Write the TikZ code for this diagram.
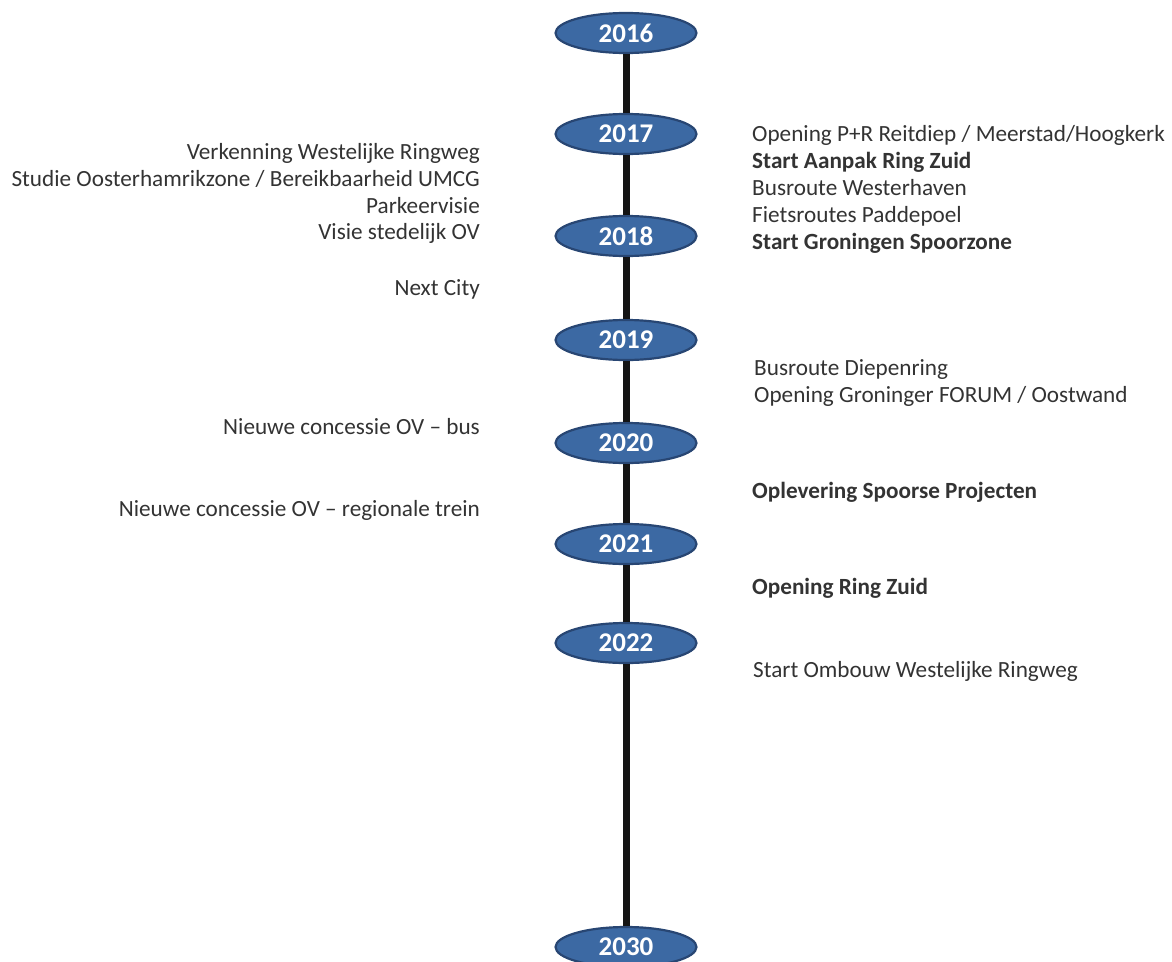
\documentclass[tikz,border=0pt]{standalone}
\usepackage{fontspec}
\setmainfont{Carlito}
\usetikzlibrary{shapes.geometric}
\definecolor{yearfill}{HTML}{3C69A3}
\definecolor{yearedge}{HTML}{284673}
\definecolor{txt}{HTML}{333333}
\definecolor{linecol}{HTML}{141414}
\tikzset{
  year/.style={ellipse, fill=yearfill, draw=yearedge, line width=2.2pt,
    minimum width=141pt, minimum height=40pt, inner sep=0pt,
    text=white, font=\bfseries\fontsize{27}{27}\selectfont},
  spine/.style={draw=linecol, line width=7pt},
  lefttxt/.style={anchor=base east, inner sep=0pt, text=txt, font=\fontsize{23.2}{28}\selectfont},
  righttxt/.style={anchor=base west, inner sep=0pt, text=txt, font=\fontsize{23.2}{28}\selectfont},
  bold/.style={font=\bfseries\fontsize{23.2}{28}\selectfont}
}
\begin{document}
\begin{tikzpicture}[x=1pt,y=-1pt]
\useasboundingbox (0,0) rectangle (1172,961);
% year nodes
\node[year] (y2016) at (626,33) {2016};
\node[year] (y2017) at (626,134) {2017};
\node[year] (y2018) at (626,236) {2018};
\node[year] (y2019) at (626,340) {2019};
\node[year] (y2020) at (626,443) {2020};
\node[year] (y2021) at (626,544) {2021};
\node[year] (y2022) at (626,643) {2022};
\node[year] (y2030) at (626,947) {2030};
% spine
\draw[spine] (y2016) -- (y2017);
\draw[spine] (y2017) -- (y2018);
\draw[spine] (y2018) -- (y2019);
\draw[spine] (y2019) -- (y2020);
\draw[spine] (y2020) -- (y2021);
\draw[spine] (y2021) -- (y2022);
\draw[spine] (y2022) -- (y2030);
% left texts
\node[lefttxt] (l1) at (480,159) {Verkenning Westelijke Ringweg};
\node[lefttxt] (l2) at (480,186) {Studie Oosterhamrikzone / Bereikbaarheid UMCG};
\node[lefttxt] (l3) at (480,213) {Parkeervisie};
\node[lefttxt] (l4) at (480,239) {Visie stedelijk OV};
\node[lefttxt] (l5) at (480,295) {Next City};
\node[lefttxt] (l6) at (480,434) {Nieuwe concessie OV – bus};
\node[lefttxt] (l7) at (480,516) {Nieuwe concessie OV – regionale trein};
% right texts
\node[righttxt] (r1) at (752,141) {Opening P+R Reitdiep / Meerstad/Hoogkerk};
\node[righttxt,bold] (r2) at (752,168) {Start Aanpak Ring Zuid};
\node[righttxt] (r3) at (752,195) {Busroute Westerhaven};
\node[righttxt] (r4) at (752,222) {Fietsroutes Paddepoel};
\node[righttxt,bold] (r5) at (752,249) {Start Groningen Spoorzone};
\node[righttxt] (r6) at (754,375) {Busroute Diepenring};
\node[righttxt] (r7) at (754,402) {Opening Groninger FORUM / Oostwand};
\node[righttxt,bold] (r8) at (752,498) {Oplevering Spoorse Projecten};
\node[righttxt,bold] (r9) at (752,594) {Opening Ring Zuid};
\node[righttxt] (r10) at (753,677) {Start Ombouw Westelijke Ringweg};
\end{tikzpicture}
\end{document}
